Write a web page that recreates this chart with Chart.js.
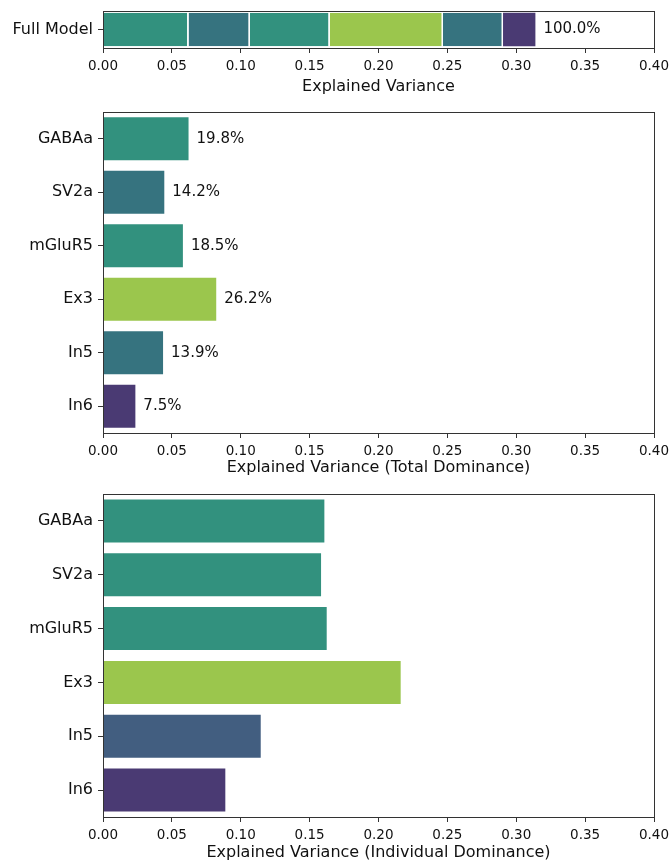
<!DOCTYPE html>
<html>
<head>
<meta charset="utf-8">
<script src="https://cdn.jsdelivr.net/npm/chart.js@4"></script>
<style>
  body { margin: 0; background: #fff; }
  .panel { position: absolute; left: 0; width: 671px; }
  .panel canvas { display: block; }
</style>
</head>
<body>
<div class="panel" style="top:0;height:100px"><canvas id="full"></canvas></div>
<div class="panel" style="top:100px;height:380px"><canvas id="total"></canvas></div>
<div class="panel" style="top:480px;height:383px"><canvas id="individual"></canvas></div>
<script>
// predictors and their dominance values
const regions = ["GABAa", "SV2a", "mGluR5", "Ex3", "In5", "In6"];
const totalDominance = [0.0621, 0.0445, 0.0580, 0.0822, 0.0436, 0.0235];
const individualDominance = [0.1607, 0.1583, 0.1624, 0.2161, 0.1145, 0.0888];
const xTickLabels = ["0.00", "0.05", "0.10", "0.15", "0.20", "0.25", "0.30", "0.35", "0.40"];

const totalColors = ["#32917e", "#36737f", "#32917e", "#9bc64d", "#36737f", "#4a3a73"];
const individualColors = ["#32917e", "#32917e", "#32917e", "#9bc64d", "#425e80", "#4a3a73"];

const fullR2 = totalDominance.reduce((a, b) => a + b, 0);
const FONT = "'DejaVu Sans', sans-serif";
const AXIS = "#333";

// box around the plot area
const frame = {
  id: "frame",
  afterDraw(chart) {
    const { ctx, chartArea: a } = chart;
    ctx.save();
    ctx.strokeStyle = AXIS;
    ctx.lineWidth = 1;
    ctx.strokeRect(Math.round(a.left) + 0.5, Math.round(a.top) + 0.5,
      Math.round(a.right - a.left), Math.round(a.bottom - a.top));
    ctx.restore();
  }
};

// text next to bar ends
function endLabels(getText, lastOnly) {
  return {
    id: "endLabels",
    afterDatasetsDraw(chart) {
      const { ctx } = chart;
      ctx.save();
      ctx.font = "15px " + FONT;
      ctx.fillStyle = "#111";
      ctx.textBaseline = "middle";
      ctx.textAlign = "left";
      const metas = lastOnly ? [chart.getDatasetMeta(chart.data.datasets.length - 1)]
                             : [chart.getDatasetMeta(0)];
      metas.forEach(meta => {
        meta.data.forEach((bar, i) => {
          ctx.fillText(getText(i), bar.x + 8, bar.y);
        });
      });
      ctx.restore();
    }
  };
}

function xScale(title, height, titlePad) {
  return {
    type: "linear",
    min: 0,
    max: 0.4,
    stacked: true,
    grid: { drawOnChartArea: false, drawTicks: true, tickLength: 5, color: AXIS },
    border: { display: true, color: AXIS },
    ticks: {
      stepSize: 0.05,
      padding: 5,
      color: "#111",
      font: { family: FONT, size: 13.5 },
      maxRotation: 0,
      callback: (v, i) => xTickLabels[i]
    },
    title: {
      display: true,
      text: title,
      color: "#111",
      font: { family: FONT, size: 16 },
      padding: { top: 2, bottom: titlePad }
    },
    afterFit(s) {
      s.height = height;
      // the end labels may overhang; the layout padding sets the margins
      s.paddingLeft = 0;
      s.paddingRight = 0;
    }
  };
}

function yScale() {
  return {
    stacked: true,
    grid: { offset: false, drawOnChartArea: false, drawTicks: true, tickLength: 5, color: AXIS },
    border: { display: true, color: AXIS },
    ticks: { color: "#111", padding: 5, font: { family: FONT, size: 16 } },
    afterFit(s) {
      s.width = 103;
      s.paddingTop = 0;
      s.paddingBottom = 0;
    }
  };
}

const common = {
  indexAxis: "y",
  responsive: true,
  maintainAspectRatio: false,
  animation: false,
  plugins: { legend: { display: false }, tooltip: { enabled: false } }
};

// stacked bar for the full model
new Chart(document.getElementById("full"), {
  type: "bar",
  data: {
    labels: ["Full Model"],
    datasets: regions.map((r, i) => ({
      label: r,
      data: [totalDominance[i]],
      backgroundColor: totalColors[i],
      borderColor: "#ffffff",
      borderWidth: { left: 0, right: i < regions.length - 1 ? 1.5 : 0, top: 0, bottom: 0 },
      borderSkipped: false,
      barPercentage: 0.91,
      categoryPercentage: 1
    }))
  },
  options: {
    ...common,
    layout: { padding: { top: 11, right: 17, left: 0, bottom: 0 } },
    scales: { x: xScale("Explained Variance", 52, 4), y: yScale() }
  },
  plugins: [frame, endLabels(() => (fullR2 / fullR2 * 100).toFixed(1) + "%", true)]
});

// total dominance
new Chart(document.getElementById("total"), {
  type: "bar",
  data: {
    labels: regions,
    datasets: [{
      data: totalDominance,
      backgroundColor: totalColors,
      barPercentage: 0.8,
      categoryPercentage: 1
    }]
  },
  options: {
    ...common,
    layout: { padding: { top: 12, right: 17, left: 0, bottom: 0 } },
    scales: { x: xScale("Explained Variance (Total Dominance)", 47, 3), y: yScale() }
  },
  plugins: [frame, endLabels(i => (totalDominance[i] / fullR2 * 100).toFixed(1) + "%", false)]
});

// individual dominance
new Chart(document.getElementById("individual"), {
  type: "bar",
  data: {
    labels: regions,
    datasets: [{
      data: individualDominance,
      backgroundColor: individualColors,
      barPercentage: 0.8,
      categoryPercentage: 1
    }]
  },
  options: {
    ...common,
    layout: { padding: { top: 14, right: 17, left: 0, bottom: 0 } },
    scales: { x: xScale("Explained Variance (Individual Dominance)", 46, 1), y: yScale() }
  },
  plugins: [frame]
});
</script>
</body>
</html>
